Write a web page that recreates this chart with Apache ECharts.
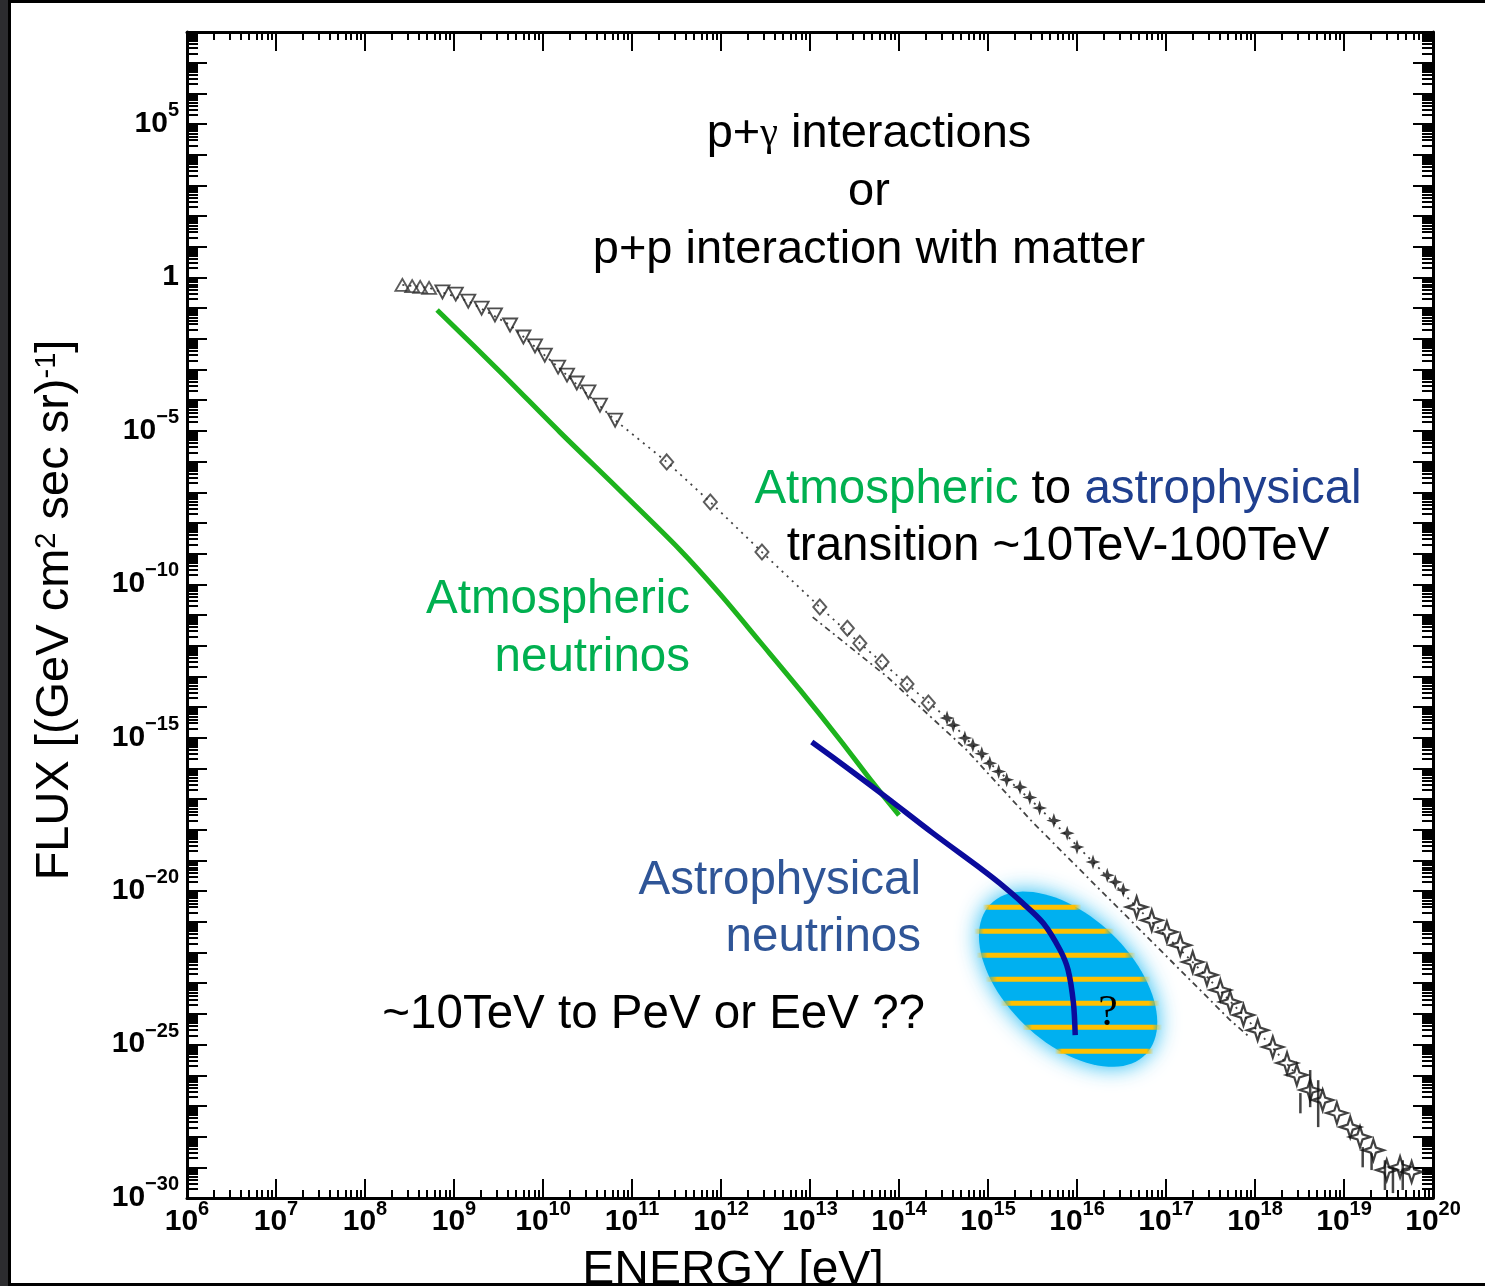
<!DOCTYPE html>
<html><head><meta charset="utf-8">
<script src="https://cdn.jsdelivr.net/npm/echarts@6/dist/echarts.min.js"></script>
<style>
html,body{margin:0;padding:0;background:#000;}
#page{position:relative;width:1485px;height:1286px;background:#000;overflow:hidden}
#paper{position:absolute;left:11px;top:3px;right:0;bottom:3px;background:#fff}
#edge{position:absolute;left:0;top:0;width:8px;height:1286px;background:#2c2c2f}
#chart{position:absolute;left:0;top:0;width:1485px;height:1286px}
</style></head>
<body><div id="page"><div id="edge"></div><div id="paper"></div><div id="chart"></div></div>
<script>
// ---- axis tick labels (exponents of 10) ----
const xLabelExps = [6,7,8,9,10,11,12,13,14,15,16,17,18,19,20];
const yLabelExps = [-30,-25,-20,-15,-10,-5,0,5];

// ---- cosmic-ray spectrum (log10 E [eV], log10 flux) ----
const triUpLogE = [8.42, 8.53, 8.62, 8.72];
const triUpLogF = [-0.24, -0.28, -0.31, -0.34];
const triDownLogE = [8.87, 9.02, 9.16, 9.31, 9.46, 9.63, 9.78, 9.91, 10.02, 10.17, 10.27, 10.38, 10.51, 10.64, 10.81];
const triDownLogF = [-0.47, -0.54, -0.77, -1.00, -1.22, -1.55, -1.94, -2.23, -2.53, -2.92, -3.18, -3.44, -3.73, -4.16, -4.65];
const diamondLogE = [11.39, 11.88, 12.46, 13.11, 13.42, 13.56, 13.81, 14.09, 14.33];
const diamondLogF = [-6.01, -7.32, -8.95, -10.74, -11.43, -11.92, -12.53, -13.25, -13.87];
const crossLogE = [14.54, 14.61, 14.74, 14.83, 14.93, 15.02, 15.12, 15.21, 15.36, 15.47, 15.58, 15.74, 15.89, 16.00, 16.18, 16.34, 16.43, 16.52];
const crossLogF = [-14.36, -14.59, -15.01, -15.24, -15.52, -15.83, -16.10, -16.37, -16.61, -16.95, -17.29, -17.70, -18.11, -18.56, -19.05, -19.48, -19.70, -19.96];
const starLogE = [16.67, 16.84, 17.01, 17.16, 17.30, 17.46, 17.61, 17.72, 17.87, 18.03, 18.20, 18.36, 18.47, 18.62, 18.76, 18.92, 19.07, 19.18, 19.33, 19.48, 19.63, 19.76];
const starLogF = [-20.52, -20.95, -21.33, -21.76, -22.31, -22.73, -23.22, -23.61, -24.04, -24.53, -25.08, -25.60, -25.99, -26.48, -26.81, -27.23, -27.69, -28.01, -28.44, -29.09, -28.99, -29.15];
const errLogE  = [18.51, 18.62, 18.71, 19.21, 19.31, 19.46, 19.55, 19.66];
const errLowF  = [-27.24, -27.04, -27.69, -29.00, -29.09, -29.74, -29.84, -29.74];
const errHighF = [-26.58, -25.83, -26.16, -28.34, -28.54, -28.77, -29.00, -28.77];

// ---- guide lines ----
const guideUpperLogE = [8.42, 8.72, 9.16, 9.63, 10.17, 10.81, 11.39, 11.88, 12.46, 13.11, 13.56, 14.09, 14.54, 15.02, 15.58, 16.18, 16.67, 17.30, 17.87, 18.47];
const guideUpperLogF = [-0.24, -0.34, -0.77, -1.55, -2.92, -4.65, -6.01, -7.32, -8.95, -10.74, -11.92, -13.25, -14.36, -15.83, -17.29, -19.05, -20.52, -22.31, -24.04, -25.99];
const guideLowerLogE = [13.03, 13.87, 14.76, 15.51, 16.26, 16.97, 17.72, 17.94];
const guideLowerLogF = [-11.07, -13.02, -15.40, -17.78, -19.96, -22.02, -24.20, -24.76];

// ---- neutrino fluxes ----
const atmoLogE = [8.81, 9.52, 10.19, 10.87, 11.54, 11.99, 12.44, 12.89, 13.34, 13.71, 14.00];
const atmoLogF = [-1.06, -3.08, -5.04, -6.96, -8.88, -10.32, -11.88, -13.45, -15.08, -16.48, -17.52];
const astroLogE = [13.02, 13.45, 13.87, 14.38, 14.94, 15.13, 15.39, 15.62, 15.81, 15.90, 15.96, 15.98];
const astroLogF = [-15.14, -16.05, -16.97, -18.11, -19.31, -19.74, -20.39, -21.04, -21.92, -22.57, -23.65, -24.69];

// ---- uncertain region (centre, log10 E, log10 flux) ----
const regionLogE = [15.90];
const regionLogF = [-22.87];

const FONT = '"Liberation Sans", Arial, Helvetica, sans-serif';
const SERIF = '"Liberation Serif", "DejaVu Serif", serif';
const pair = (xs, ys) => xs.map((x, i) => [x, ys[i]]);

const decadeX = xLabelExps.slice();
const minorX = [];
for (let n = 6; n < 20; n++) for (let k = 2; k <= 9; k++) minorX.push(n + Math.log10(k));
const decadeY = [];
for (let n = -30; n <= 7; n++) decadeY.push(n);
const minorY = [];
for (let n = -30; n < 8; n++) for (let k = 2; k <= 9; k++) minorY.push(n + Math.log10(k));

function expLabel(v) {
  const n = Math.round(v);
  if (n === 0) return '{b|1}';
  return '{b|10}{s|' + (n < 0 ? '\u2212' + (-n) : n) + '}';
}
const labelRich = {
  b: {fontFamily: FONT, fontWeight: 'bold', fontSize: 30, color: '#000', padding: [8, 0, 0, 0]},
  s: {fontFamily: FONT, fontWeight: 'bold', fontSize: 20, color: '#000', verticalAlign: 'top'}
};
const tickStyle = {color: '#000', width: 2};
const lineStyleAxis = {color: '#000', width: 3};

function xAxisDef(pos, major) {
  return {
    type: 'value', min: 6, max: 20, interval: 1, position: pos,
    axisLine: {show: major, onZero: false, lineStyle: lineStyleAxis},
    axisTick: {show: true, inside: true, length: major ? 19 : 8, customValues: major ? decadeX : minorX, lineStyle: tickStyle},
    axisLabel: {show: false},
    splitLine: {show: false}
  };
}
function yAxisDef(pos, major) {
  return {
    type: 'value', min: -30, max: 8, interval: 5, position: pos,
    axisLine: {show: major, onZero: false, lineStyle: lineStyleAxis},
    axisTick: {show: true, inside: true, length: major ? 20 : 11, customValues: major ? decadeY : minorY, lineStyle: tickStyle},
    axisLabel: {show: false},
    splitLine: {show: false}
  };
}

const xAxes = [xAxisDef('bottom', true), xAxisDef('bottom', false), xAxisDef('top', true), xAxisDef('top', false)];
xAxes[0].axisLabel = {show: true, customValues: xLabelExps, formatter: expLabel, margin: 1, rich: labelRich};
xAxes[0].name = 'ENERGY [eV]';
xAxes[0].nameLocation = 'middle';
xAxes[0].nameGap = 49;
xAxes[0].nameTextStyle = {fontFamily: FONT, fontSize: 48, color: '#000', padding: [0, 154, 0, 0]};

const yAxes = [yAxisDef('left', true), yAxisDef('left', false), yAxisDef('right', true), yAxisDef('right', false)];
yAxes[0].axisLabel = {show: true, customValues: yLabelExps, formatter: expLabel, margin: 8, padding: [0, 0, 9, 0], rich: labelRich};
yAxes[0].name = 'FLUX [(GeV cm{s|2} sec sr){s|-1}]';
yAxes[0].nameLocation = 'middle';
yAxes[0].nameGap = 108;
yAxes[0].nameTextStyle = {
  fontFamily: FONT, fontSize: 47, color: '#000', padding: [0, 0, 0, 10],
  rich: {s: {fontFamily: FONT, fontSize: 29, color: '#000', verticalAlign: 'top'}}
};

const openStyle = (c, w) => ({color: 'rgba(0,0,0,0)', borderColor: c, borderWidth: w});
const STAR = 'path://M10,0 L12.4,7.6 L20,10 L12.4,12.4 L10,20 L7.6,12.4 L0,10 L7.6,7.6 Z';

const chart = echarts.init(document.getElementById('chart'), null, {renderer: 'canvas'});
chart.setOption({
  animation: false,
  backgroundColor: 'transparent',
  grid: {left: 187, right: 52, top: 32, bottom: 88, containLabel: false, outerBoundsMode: 'none'},
  xAxis: xAxes,
  yAxis: yAxes,
  series: [
    {
      name: 'region', type: 'custom', z: 1, silent: true,
      data: pair(regionLogE, regionLogF),
      renderItem: function (params, api) {
        const c = api.coord([api.value(0), api.value(1)]);
        const a = 108, b = 63, th = 44 * Math.PI / 180;
        const ct = Math.cos(th), st = Math.sin(th);
        const pts = [];
        for (let i = 0; i < 96; i++) {
          const t = i / 96 * 2 * Math.PI;
          pts.push([c[0] + a * Math.cos(t) * ct - b * Math.sin(t) * st,
                    c[1] + a * Math.cos(t) * st + b * Math.sin(t) * ct]);
        }
        const children = [{
          type: 'polygon', shape: {points: pts},
          style: {fill: '#00b0f0', shadowBlur: 22, shadowColor: 'rgba(0,176,240,0.9)'}
        }];
        const A = ct * ct / (a * a) + st * st / (b * b);
        for (let k = -3; k <= 3; k++) {
          const dy = k * 24;
          const B = 2 * dy * ct * st * (1 / (a * a) - 1 / (b * b));
          const C = dy * dy * (st * st / (a * a) + ct * ct / (b * b)) - 1;
          const disc = B * B - 4 * A * C;
          if (disc <= 0) continue;
          const x1 = (-B - Math.sqrt(disc)) / (2 * A) - 5;
          const x2 = (-B + Math.sqrt(disc)) / (2 * A) + 5;
          children.push({
            type: 'rect',
            shape: {x: c[0] + x1, y: c[1] + dy - 2.5, width: x2 - x1, height: 5},
            style: {fill: new echarts.graphic.LinearGradient(0, 0, 1, 0, [
              {offset: 0, color: 'rgba(255,192,0,0)'},
              {offset: 0.07, color: '#ffc000'},
              {offset: 0.93, color: '#ffc000'},
              {offset: 1, color: 'rgba(255,192,0,0)'}
            ])}
          });
        }
        return {type: 'group', children: children};
      }
    },
    {
      name: 'guide upper', type: 'line', z: 2, symbol: 'none', silent: true,
      data: pair(guideUpperLogE, guideUpperLogF),
      lineStyle: {color: '#444', width: 1.8, type: [2, 5]}
    },
    {
      name: 'guide lower', type: 'line', z: 2, symbol: 'none', silent: true,
      data: pair(guideLowerLogE, guideLowerLogF),
      lineStyle: {color: '#444', width: 1.8, type: [6, 4, 2, 4]}
    },
    {
      name: 'error bars', type: 'custom', z: 3, silent: true,
      data: errLogE.map((e, i) => [e, errLowF[i], errHighF[i]]),
      renderItem: function (params, api) {
        const p1 = api.coord([api.value(0), api.value(1)]);
        const p2 = api.coord([api.value(0), api.value(2)]);
        return {type: 'line', shape: {x1: p1[0], y1: p1[1], x2: p2[0], y2: p2[1]},
                style: {stroke: '#444', lineWidth: 2.5}};
      }
    },
    {
      name: 'triangles up', type: 'scatter', z: 4, symbol: 'triangle', symbolSize: [14, 12],
      data: pair(triUpLogE, triUpLogF), itemStyle: openStyle('#333', 1.8)
    },
    {
      name: 'triangles down', type: 'scatter', z: 4, symbol: 'triangle', symbolRotate: 180, symbolSize: [14, 13],
      data: pair(triDownLogE, triDownLogF), itemStyle: openStyle('#222', 1.9)
    },
    {
      name: 'diamonds', type: 'scatter', z: 4, symbol: 'diamond', symbolSize: [13, 15],
      data: pair(diamondLogE, diamondLogF), itemStyle: openStyle('#333', 2)
    },
    {
      name: 'crosses', type: 'scatter', z: 4, symbol: STAR, symbolSize: 15,
      data: pair(crossLogE, crossLogF), itemStyle: {color: '#111'}
    },
    {
      name: 'stars', type: 'scatter', z: 4, symbol: STAR, symbolSize: 21,
      data: pair(starLogE, starLogF), itemStyle: openStyle('#111', 2.2)
    },
    {
      name: 'Atmospheric neutrinos', type: 'line', z: 5, symbol: 'none', smooth: 0.3,
      data: pair(atmoLogE, atmoLogF),
      lineStyle: {color: '#1db31d', width: 5}
    },
    {
      name: 'Astrophysical neutrinos', type: 'line', z: 6, symbol: 'none', smooth: 0.3,
      data: pair(astroLogE, astroLogF),
      lineStyle: {color: '#0b0b9c', width: 5.5}
    }
  ],
  graphic: [
    {type: 'text', x: 869, y: 134, z: 100, style: {text: 'p+{m|\u03b3} interactions', fontFamily: FONT, fontSize: 47, fill: '#000', align: 'center', verticalAlign: 'middle',
      rich: {m: {fontFamily: SERIF, fontSize: 40, fill: '#000'}}}},
    {type: 'text', x: 869, y: 192, z: 100, style: {text: 'or', fontFamily: FONT, fontSize: 47, fill: '#000', align: 'center', verticalAlign: 'middle'}},
    {type: 'text', x: 869, y: 250, z: 100, style: {text: 'p+p interaction with matter', fontFamily: FONT, fontSize: 47, fill: '#000', align: 'center', verticalAlign: 'middle'}},
    {type: 'text', x: 1058, y: 490, z: 100, style: {text: '{g|Atmospheric} to {b|astrophysical}', fontFamily: FONT, fontSize: 47.5, fill: '#000', align: 'center', verticalAlign: 'middle',
      rich: {g: {fontFamily: FONT, fontSize: 47.5, fill: '#00b050'}, b: {fontFamily: FONT, fontSize: 47.5, fill: '#1f3f8f'}}}},
    {type: 'text', x: 1058, y: 547, z: 100, style: {text: 'transition ~10TeV-100TeV', fontFamily: FONT, fontSize: 47.5, fill: '#000', align: 'center', verticalAlign: 'middle'}},
    {type: 'text', x: 690, y: 600, z: 100, style: {text: 'Atmospheric', fontFamily: FONT, fontSize: 47.5, fill: '#00b050', align: 'right', verticalAlign: 'middle'}},
    {type: 'text', x: 690, y: 658, z: 100, style: {text: 'neutrinos', fontFamily: FONT, fontSize: 47.5, fill: '#00b050', align: 'right', verticalAlign: 'middle'}},
    {type: 'text', x: 921, y: 881, z: 100, style: {text: 'Astrophysical', fontFamily: FONT, fontSize: 47.5, fill: '#2f5597', align: 'right', verticalAlign: 'middle'}},
    {type: 'text', x: 921, y: 938, z: 100, style: {text: 'neutrinos', fontFamily: FONT, fontSize: 47.5, fill: '#2f5597', align: 'right', verticalAlign: 'middle'}},
    {type: 'text', x: 925, y: 1015, z: 100, style: {text: '~10TeV to PeV or EeV ??', fontFamily: FONT, fontSize: 47.5, fill: '#000', align: 'right', verticalAlign: 'middle'}},
    {type: 'text', x: 1108, y: 1013, z: 100, style: {text: '?', fontFamily: SERIF, fontSize: 44, fill: '#000', align: 'center', verticalAlign: 'middle'}}
  ]
});
</script></body></html>
